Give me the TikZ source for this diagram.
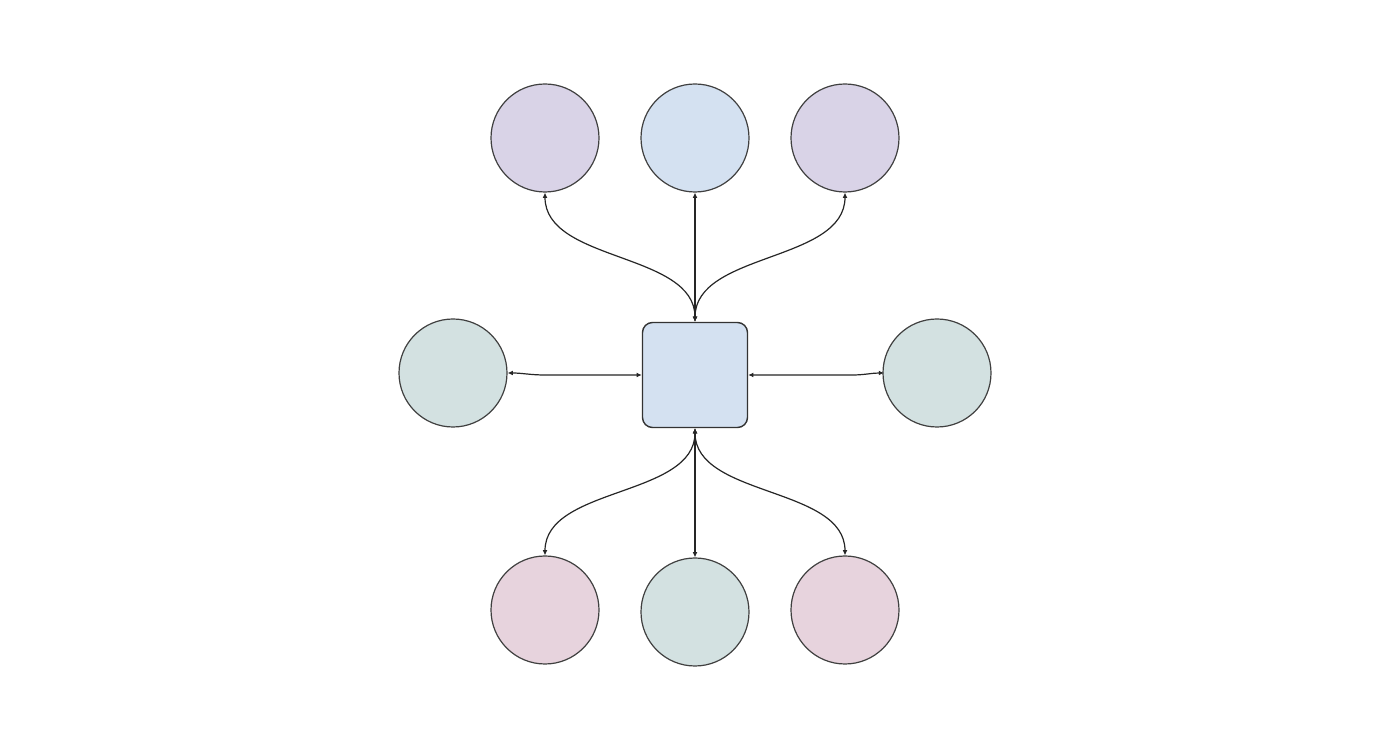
\documentclass[tikz,border=0pt]{standalone}
\usetikzlibrary{arrows.meta}
\definecolor{cpurple}{HTML}{D9D3E7}
\definecolor{cblue}{HTML}{D4E1F1}
\definecolor{cgreen}{HTML}{D3E1E1}
\definecolor{cpink}{HTML}{E7D3DD}
\begin{document}
\begin{tikzpicture}[x=0.5pt,y=-0.5pt,
  circ/.style={circle,draw=black!75,line width=0.6pt,minimum size=54pt,inner sep=0pt},
  hub/.style={rectangle,rounded corners=5pt,draw=black!80,line width=0.7pt,minimum size=52.5pt,inner sep=0pt,fill=cblue},
  conn/.style={draw=black!85,line width=0.6pt,{Latex[length=2.6pt,width=2.4pt]}-{Latex[length=2.6pt,width=2.4pt]}}]
\fill[white] (0,0) rectangle (1382,742);
\useasboundingbox (0,0) rectangle (1382,742);
\node[hub] (sq) at (695,375) {};
\node[circ,fill=cpurple] (tl) at (545,138) {};
\node[circ,fill=cblue] (tc) at (695,138) {};
\node[circ,fill=cpurple] (tr) at (845,138) {};
\node[circ,fill=cgreen] (ml) at (453,373) {};
\node[circ,fill=cgreen] (mr) at (937,373) {};
\node[circ,fill=cpink] (bl) at (545,610) {};
\node[circ,fill=cgreen] (bc) at (695,612) {};
\node[circ,fill=cpink] (br) at (845,610) {};
\path[conn] (sq.north) to[out=90,in=-90,looseness=0.9] (tl.south);
\path[conn] (sq.north) -- (tc.south);
\path[conn] (sq.north) to[out=90,in=-90,looseness=0.9] (tr.south);
\path[conn] (sq.south) to[out=-90,in=90,looseness=0.9] (bl.north);
\path[conn] (sq.south) -- (bc.north);
\path[conn] (sq.south) to[out=-90,in=90,looseness=0.9] (br.north);
\coordinate (kl) at (545,375);
\coordinate (kr) at (852,375);
\path[conn] (ml.east) to[out=0,in=180] (kl) -- (sq.west);
\path[conn] (sq.east) -- (kr) to[out=0,in=180] (mr.east -| 884,373);
\end{tikzpicture}
\end{document}
